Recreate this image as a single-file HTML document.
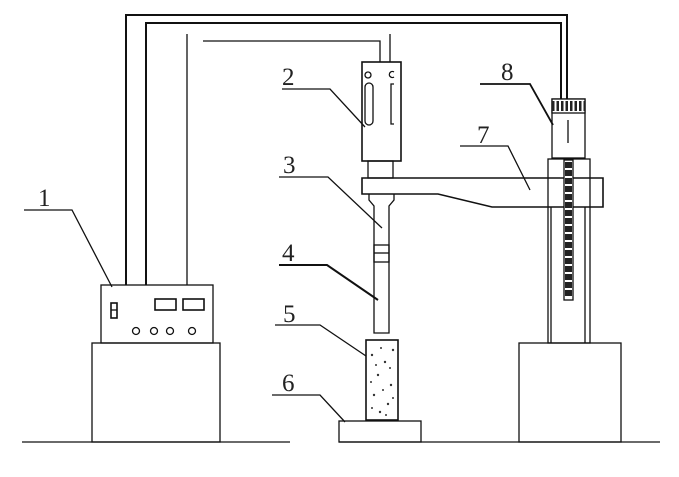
<!DOCTYPE html>
<html><head><meta charset="utf-8"><style>
html,body{margin:0;padding:0;background:#fff;}
svg{display:block;}
text{font-family:"Liberation Serif",serif;font-size:25px;fill:#222;}
</style></head><body>
<svg width="679" height="477" viewBox="0 0 679 477" xmlns="http://www.w3.org/2000/svg">
<g fill="none" stroke="#111" stroke-width="1.3">
<line x1="22" y1="442" x2="290" y2="442"/>
<line x1="339" y1="442" x2="660" y2="442"/>
<rect x="92" y="343" width="128" height="99"/>
<rect x="101" y="285" width="112" height="58"/>
<rect x="111" y="303" width="6" height="15" stroke-width="1.6"/>
<line x1="111" y1="310" x2="117" y2="310"/>
<rect x="155" y="299" width="21" height="11" stroke-width="1.6"/>
<rect x="183" y="299" width="21" height="11" stroke-width="1.6"/>
<circle cx="136" cy="331" r="3.5"/><circle cx="154" cy="331" r="3.5"/><circle cx="170" cy="331" r="3.5"/><circle cx="192" cy="331" r="3.5"/>
<polyline points="126,285 126,15 567,15 567,99" stroke-width="2"/>
<polyline points="146,285 146,23 561,23 561,99" stroke-width="2"/>
<line x1="187" y1="34" x2="187" y2="285"/>
<polyline points="203,41 380,41 380,62"/>
<line x1="390" y1="34" x2="390" y2="62"/>
<rect x="362" y="62" width="39" height="99" stroke-width="1.6"/>
<circle cx="368" cy="75" r="3"/>
<path d="M394 72 a3 3 0 1 0 0 5"/>
<rect x="365" y="83" width="8" height="42" rx="4"/>
<path d="M394 84 h-3 v40 h3"/>
<rect x="368" y="161" width="25" height="17"/>
<path d="M362 178 H603 V207 H492 L438 194 H362 Z" stroke-width="1.6"/>
<path d="M369 194 V200 L374 206 V333 H389 V206 L394 200 V194"/>
<rect x="374" y="245" width="15" height="17"/>
<line x1="374" y1="253" x2="389" y2="253"/>
<rect x="366" y="340" width="32" height="80" stroke-width="1.6"/>
<rect x="339" y="421" width="82" height="21"/>
<rect x="519" y="343" width="102" height="99"/>
<rect x="548" y="159" width="42" height="184"/>
<line x1="551" y1="207" x2="551" y2="343"/>
<line x1="585" y1="207" x2="585" y2="343"/>
<rect x="564" y="160" width="9" height="140" fill="#fff"/>
<line x1="568.5" y1="162" x2="568.5" y2="298" stroke="#222" stroke-width="7" stroke-dasharray="6 2"/>
<rect x="552" y="99" width="33" height="59" fill="#fff"/>
<rect x="552" y="99" width="33" height="14" fill="#fff"/>
<line x1="552" y1="106" x2="585" y2="106" stroke="#222" stroke-width="10" stroke-dasharray="2.5 2"/>
<line x1="568" y1="120" x2="568" y2="143"/>
<polyline points="24,210 72,210 112,287"/>
<polyline points="282,89 330,89 365,127"/>
<polyline points="279,177 328,177 382,228"/>
<polyline points="279,265 327,265 378,300" stroke-width="2"/>
<polyline points="275,325 320,325 366,356"/>
<polyline points="272,395 320,395 345,422"/>
<polyline points="460,146 508,146 530,190"/>
<polyline points="480,84 530,84 553,125" stroke-width="1.8"/>
</g>
<g fill="#333">
<circle cx="372" cy="355" r="1.2"/><circle cx="385" cy="362" r="1.2"/><circle cx="378" cy="375" r="1.2"/><circle cx="391" cy="385" r="1.2"/><circle cx="374" cy="395" r="1.2"/><circle cx="388" cy="404" r="1.2"/><circle cx="380" cy="412" r="1.2"/><circle cx="393" cy="350" r="1.2"/>
<circle cx="390" cy="368" r="1"/><circle cx="371" cy="382" r="1"/><circle cx="383" cy="390" r="1"/><circle cx="393" cy="398" r="1"/><circle cx="372" cy="408" r="1"/><circle cx="381" cy="348" r="1"/><circle cx="376" cy="365" r="1"/><circle cx="386" cy="415" r="1"/>
</g>
<text x="38" y="206">1</text>
<text x="282" y="85">2</text>
<text x="283" y="173">3</text>
<text x="282" y="261">4</text>
<text x="283" y="322">5</text>
<text x="282" y="391">6</text>
<text x="477" y="143">7</text>
<text x="501" y="80">8</text>
</svg>
</body></html>
